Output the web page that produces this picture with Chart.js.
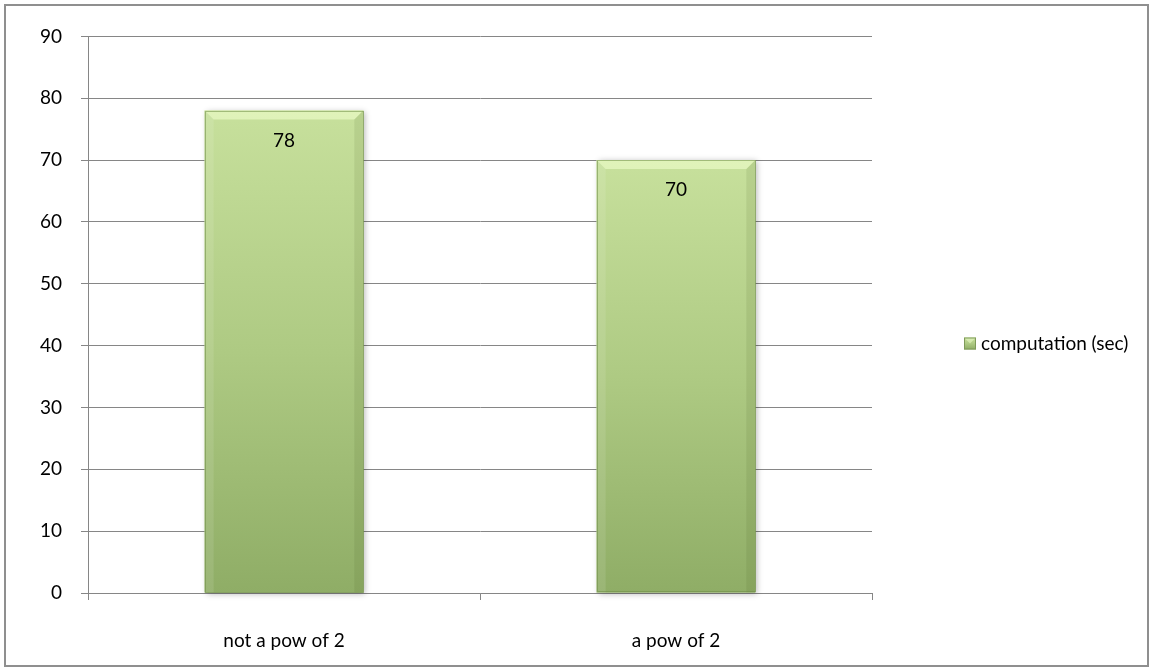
<!DOCTYPE html>
<html>
<head>
<meta charset="utf-8">
<script src="https://cdn.jsdelivr.net/npm/chart.js@4.4.1/dist/chart.umd.min.js"></script>
<style>
  body { margin: 0; background: #fff; }
  #wrap {
    position: absolute; left: 4px; top: 4px;
    width: 1145px; height: 663px;
    border: 2px solid #8f8f8f; box-sizing: border-box;
    background: #fff;
  }
  canvas { display: block; }
</style>
</head>
<body>
<div id="wrap"><canvas id="myChart" width="1141" height="659"></canvas></div>
<script>
// chart data
var categories = ["not a pow of 2", "a pow of 2"];
var computationSec = [78, 70];
var seriesName = "computation (sec)";
var yTicks = [0, 10, 20, 30, 40, 50, 60, 70, 80, 90];

var FONT = "Lato, 'Liberation Sans', sans-serif";
var FONT_SIZE = 19;

function barGradient(ctx, top, bottom) {
  var g = ctx.createLinearGradient(0, top, 0, bottom);
  g.addColorStop(0, "#c7e09c");
  g.addColorStop(0.5, "#aeca83");
  g.addColorStop(1, "#8fad66");
  return g;
}

// soft shadow behind the bars, like the excel bevel style
var barShadow = {
  id: "barShadow",
  beforeDatasetsDraw: function (chart) {
    var ctx = chart.ctx;
    chart.getDatasetMeta(0).data.forEach(function (bar) {
      var p = bar.getProps(["x", "y", "base", "width"], true);
      ctx.save();
      ctx.shadowColor = "rgba(0,0,0,0.28)";
      ctx.shadowBlur = 6;
      ctx.shadowOffsetX = 2;
      ctx.shadowOffsetY = 1;
      ctx.fillStyle = "#a8c47e";
      ctx.fillRect(p.x - p.width / 2, p.y, p.width, p.base - p.y);
      ctx.restore();
    });
  },
};

// bevel edges + value labels
var barDecor = {
  id: "barDecor",
  afterDatasetsDraw: function (chart) {
    var ctx = chart.ctx;
    var values = chart.data.datasets[0].data;
    chart.getDatasetMeta(0).data.forEach(function (bar, i) {
      var p = bar.getProps(["x", "y", "base", "width"], true);
      var l = p.x - p.width / 2, r = p.x + p.width / 2;
      var t = p.y, b = p.base, bev = 9;
      ctx.save();
      // top bevel
      ctx.beginPath();
      ctx.moveTo(l, t); ctx.lineTo(r, t);
      ctx.lineTo(r - bev, t + bev); ctx.lineTo(l + bev, t + bev);
      ctx.closePath();
      ctx.fillStyle = "rgba(240,255,205,0.6)";
      ctx.fill();
      // left bevel
      ctx.beginPath();
      ctx.moveTo(l, t); ctx.lineTo(l + bev, t + bev);
      ctx.lineTo(l + bev, b); ctx.lineTo(l, b);
      ctx.closePath();
      ctx.fillStyle = "rgba(255,255,255,0.10)";
      ctx.fill();
      // right bevel
      ctx.beginPath();
      ctx.moveTo(r, t); ctx.lineTo(r - bev, t + bev);
      ctx.lineTo(r - bev, b); ctx.lineTo(r, b);
      ctx.closePath();
      ctx.fillStyle = "rgba(60,80,20,0.10)";
      ctx.fill();
      // outline
      ctx.strokeStyle = "rgba(110,140,70,0.55)";
      ctx.lineWidth = 1;
      ctx.strokeRect(Math.round(l) + 0.5, Math.round(t) + 0.5, Math.round(r - l) - 1, Math.round(b - t) - 1);
      // value label
      ctx.fillStyle = "#000";
      ctx.font = FONT_SIZE + "px " + FONT;
      ctx.textAlign = "center";
      ctx.textBaseline = "middle";
      ctx.fillText(values[i], p.x, t + 30);
      ctx.restore();
    });
  },
};

// legend on the right, centred vertically like excel
var sideLegend = {
  id: "sideLegend",
  afterDraw: function (chart) {
    var ctx = chart.ctx;
    var sx = chart.chartArea.right + 92;
    var cy = chart.height / 2 + 8;
    ctx.save();
    ctx.fillStyle = barGradient(ctx, cy - 6, cy + 6);
    ctx.fillRect(sx, cy - 6, 12, 12);
    ctx.fillStyle = "rgba(240,255,205,0.5)";
    ctx.beginPath();
    ctx.moveTo(sx, cy - 6); ctx.lineTo(sx + 12, cy - 6);
    ctx.lineTo(sx + 6, cy); ctx.closePath();
    ctx.fill();
    ctx.strokeStyle = "#7f9a5a";
    ctx.strokeRect(sx + 0.5, cy - 5.5, 11, 11);
    ctx.fillStyle = "#000";
    ctx.font = FONT_SIZE + "px " + FONT;
    ctx.textAlign = "left";
    ctx.textBaseline = "middle";
    ctx.fillText(seriesName, sx + 17, cy);
    ctx.restore();
  },
};

var canvas = document.getElementById("myChart");
var myChart = new Chart(canvas.getContext("2d"), {
  type: "bar",
  data: {
    labels: categories,
    datasets: [
      {
        label: seriesName,
        data: computationSec,
        backgroundColor: function (context) {
          var chart = context.chart;
          if (!chart.chartArea) return "#b0cc86";
          var y = chart.scales.y;
          return barGradient(chart.ctx, y.getPixelForValue(context.raw), y.getPixelForValue(0));
        },
        borderWidth: 0,
        barPercentage: 0.405,
        categoryPercentage: 1,
      },
    ],
  },
  options: {
    responsive: false,
    animation: false,
    layout: { padding: { top: 28, right: 275, left: 0, bottom: 0 } },
    plugins: {
      legend: { display: false },
      tooltip: { enabled: false },
    },
    scales: {
      x: {
        offset: true,
        grid: {
          offset: true,
          drawOnChartArea: false,
          drawTicks: true,
          tickLength: 7,
          color: "#868686",
        },
        border: { display: true, color: "#868686" },
        ticks: { color: "#000", font: { family: FONT, size: FONT_SIZE }, padding: 29 },
        afterFit: function (axis) { axis.height = 72; },
      },
      y: {
        min: 0,
        max: 90,
        afterBuildTicks: function (axis) {
          axis.ticks = yTicks.map(function (v) { return { value: v }; });
        },
        grid: { color: "#868686", tickLength: 7 },
        border: { display: true, color: "#868686" },
        ticks: { color: "#000", font: { family: FONT, size: FONT_SIZE }, padding: 19 },
        afterFit: function (axis) { axis.width = 82; },
      },
    },
  },
  plugins: [barShadow, barDecor, sideLegend],
});
</script>
</body>
</html>
